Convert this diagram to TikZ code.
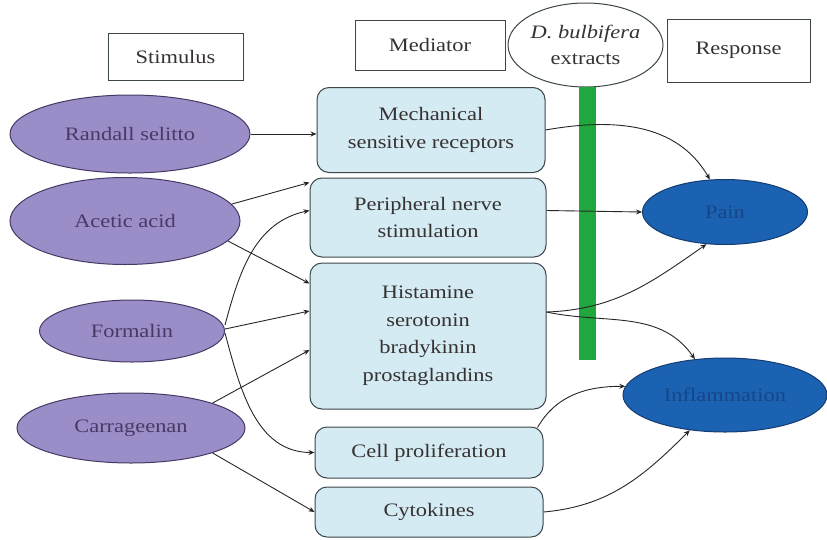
\documentclass[tikz,border=0pt]{standalone}
\usepackage{fontspec}
\setmainfont{Liberation Serif}[FakeStretch=1.18]
\usetikzlibrary{arrows.meta,shapes.geometric,calc}
\definecolor{purp}{RGB}{155,142,200}
\definecolor{purpline}{RGB}{70,58,100}
\definecolor{purptext}{RGB}{72,58,100}
\definecolor{lblue}{RGB}{212,235,243}
\definecolor{boxline}{RGB}{60,70,75}
\definecolor{dblue}{RGB}{28,98,178}
\definecolor{dblueline}{RGB}{20,60,110}
\definecolor{dbluetext}{RGB}{22,70,135}
\definecolor{gbar}{RGB}{32,168,62}
\definecolor{txt}{RGB}{55,50,50}
\begin{document}
\begin{tikzpicture}[x=1pt,y=-1pt,
  font=\fontsize{19}{27.5}\selectfont,
  header/.style={draw=boxline,line width=1pt,fill=white,inner sep=0pt,text=txt,align=center},
  stim/.style={ellipse,draw=purpline,line width=1pt,fill=purp,inner sep=0pt,text=purptext},
  med/.style={draw=boxline,line width=1pt,fill=lblue,rounded corners=12pt,inner sep=0pt,text=txt,align=center},
  resp/.style={ellipse,draw=dblueline,line width=1pt,fill=dblue,inner sep=0pt,text=dbluetext},
  arr/.style={draw=black!85,line width=0.9pt,-{Stealth[length=6pt,width=5pt,inset=2pt]}}
]
\useasboundingbox (0,0) rectangle (827,539);
% headers
\node[header,minimum width=135,minimum height=47] (hstim) at (175.5,56.5) {Stimulus};
\node[header,minimum width=150,minimum height=50] (hmed) at (430,45) {Mediator};
\node[header,minimum width=143,minimum height=63] (hresp) at (738.5,50.5) {Response};
\node[ellipse,draw=boxline,line width=1pt,fill=white,inner sep=0pt,minimum width=135,minimum height=84,align=center,text=txt] (hdb) at (585.5,45) {\textit{D. bulbifera}\\[-2pt]extracts};
% green bar
\fill[gbar] (579,87) rectangle (596,360);
% stimuli
\node[stim,minimum width=240,minimum height=78] (rand) at (130,134) {Randall selitto};
\node[stim,minimum width=230,minimum height=87] (acet) at (125,221) {Acetic acid};
\node[stim,minimum width=185,minimum height=62] (form) at (132,331) {Formalin};
\node[stim,minimum width=228,minimum height=70] (carr) at (131,428) {Carrageenan};
% mediators
\node[med,minimum width=228,minimum height=85] (mech) at (431,130) {Mechanical\\sensitive receptors};
\node[med,minimum width=236,minimum height=79] (peri) at (428,217.5) {Peripheral nerve\\stimulation};
\node[med,minimum width=236,minimum height=146] (hist) at (428,336) {Histamine\\serotonin\\bradykinin\\prostaglandins};
\node[med,minimum width=228,minimum height=51] (cell) at (429,452.5) {Cell proliferation};
\node[med,minimum width=228,minimum height=50] (cyto) at (429,512) {Cytokines};
% responses
\node[resp,minimum width=165,minimum height=65] (pain) at (725,212) {Pain};
\node[resp,minimum width=204,minimum height=74] (infl) at (725,395) {Inflammation};
% stimulus -> mediator
\draw[arr] (rand.east) -- (rand.east -| mech.west);
\draw[arr] (acet.9) -- ($(peri.north west)+(0,5)$);
\draw[arr] (acet.-11) -- ($(hist.north west)+(0,21)$);
\draw[arr] ($(form.east)+(0,-6)$) to[out=75,in=192] ($(peri.west)+(0,-7)$);
\draw[arr] ($(form.east)+(0,-2)$) -- ($(hist.west)+(0,-25)$);
\draw[arr] ($(form.east)+(0,2)$) to[out=-75,in=180] (cell.west);
\draw[arr] (carr.17) -- ($(hist.west)+(0,14)$);
\draw[arr] (carr.-17) -- (cyto.west);
% mediator -> response
\draw[arr] (mech.east) to[out=10,in=120] (pain.115);
\draw[arr] ($(peri.east)+(0,-7)$) -- (pain.west);
\draw[arr] ($(hist.east)+(0,-24)$) to[out=2,in=215] (pain.240);
\draw[arr] ($(hist.east)+(0,-24)$) to[out=-12,in=125] (infl.130);
\draw[arr] ($(cell.north east)+(-6,1)$) to[out=60,in=180] (infl.175);
\draw[arr] (cyto.east) to[out=5,in=225] (infl.225);
\end{tikzpicture}
\end{document}
